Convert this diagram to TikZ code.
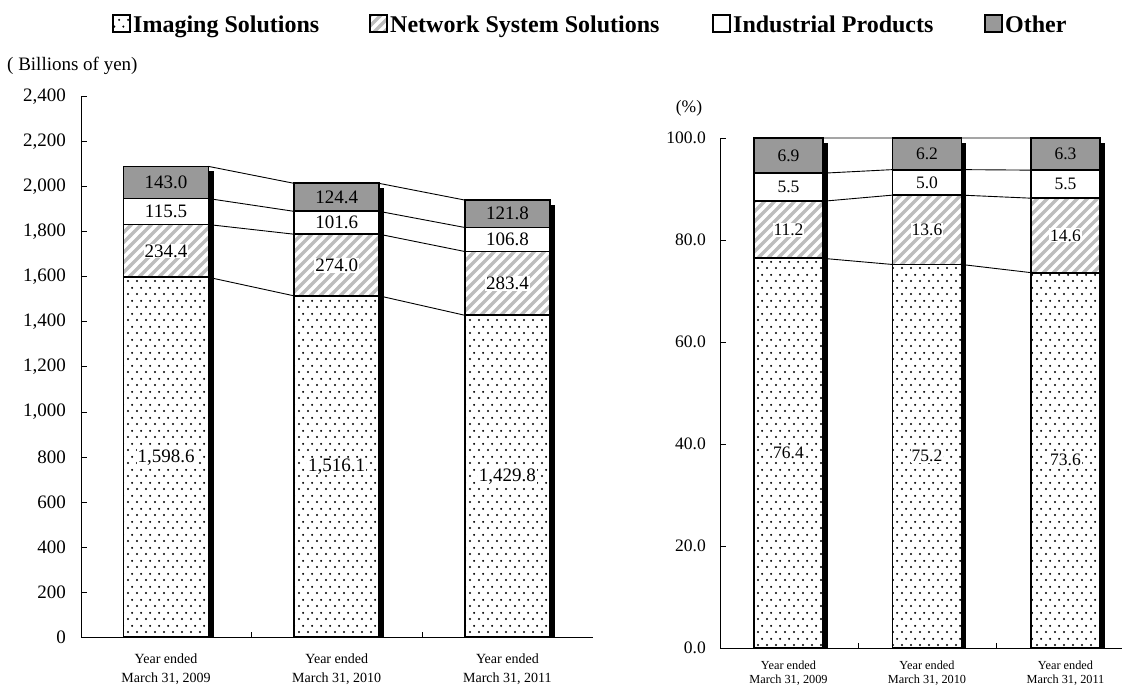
\documentclass[tikz,border=0pt]{standalone}
\usepackage{fontspec}
\setmainfont{Liberation Serif}
\usetikzlibrary{patterns}
\pgfkeys{/pgf/number format/assume math mode=true}
\pgfdeclarepatternformonly{mydots}{\pgfpointorigin}{\pgfpoint{9pt}{13pt}}{\pgfpoint{9pt}{13pt}}{%
  \pgfpathcircle{\pgfpoint{2.25pt}{3.25pt}}{1.2pt}%
  \pgfpathcircle{\pgfpoint{6.75pt}{9.75pt}}{1.2pt}%
  \pgfusepath{fill}}
\pgfdeclarepatternformonly{myhatch}{\pgfpoint{-1pt}{-1pt}}{\pgfpoint{11pt}{11pt}}{\pgfpoint{10pt}{10pt}}{%
  \pgfsetlinewidth{3.2pt}%
  \pgfpathmoveto{\pgfpoint{-1pt}{-1pt}}\pgfpathlineto{\pgfpoint{11pt}{11pt}}%
  \pgfpathmoveto{\pgfpoint{-1pt}{9pt}}\pgfpathlineto{\pgfpoint{1pt}{11pt}}%
  \pgfpathmoveto{\pgfpoint{9pt}{-1pt}}\pgfpathlineto{\pgfpoint{11pt}{1pt}}%
  \pgfusepath{stroke}}
\definecolor{othergray}{gray}{0.6}
\definecolor{hatchgray}{gray}{0.74}
\tikzset{
  dotfill/.style={pattern=mydots,pattern color=black},
  hatchfill/.style={pattern=myhatch,pattern color=hatchgray},
  barline/.style={draw=black,line width=1.8pt},
  conn/.style={draw=black,line width=0.9pt},
  axisline/.style={draw=black,line width=1pt},
  vallab/.style={font=\valfont,inner sep=1pt},
  legbox/.style={draw=black,line width=1.5pt},
  legtext/.style={font=\fontsize{24}{24}\selectfont\bfseries,anchor=base west,inner sep=0pt},
}
% chart parameters set per chart: \zy (zero y), \sc (px per unit), \hw (half width), \shw (shadow width)
\newcommand\drawstackbar[6]{%
  \pgfmathsetmacro\xl{#2-\hw}\pgfmathsetmacro\xr{#2+\hw}%
  \pgfmathsetmacro\yA{\zy-(#3)*\sc}%
  \pgfmathsetmacro\yB{\zy-(#3+#4)*\sc}%
  \pgfmathsetmacro\yC{\zy-(#3+#4+#5)*\sc}%
  \pgfmathsetmacro\yD{\zy-(#3+#4+#5+#6)*\sc}%
  \pgfmathsetmacro\ys{\yD+5}\pgfmathsetmacro\xs{\xr+\shw}%
  \coordinate (#1-l1) at (\xl,\yA); \coordinate (#1-r1) at (\xr,\yA);
  \coordinate (#1-l2) at (\xl,\yB); \coordinate (#1-r2) at (\xr,\yB);
  \coordinate (#1-l3) at (\xl,\yC); \coordinate (#1-r3) at (\xr,\yC);
  \coordinate (#1-l4) at (\xl,\yD); \coordinate (#1-r4) at (\xr,\yD);
  \path[dotfill] (\xl,\zy) rectangle (\xr,\yA);
  \path[hatchfill] (\xl,\yA) rectangle (\xr,\yB);
  \fill[white] (\xl,\yB) rectangle (\xr,\yC);
  \fill[othergray] (\xl,\yC) rectangle (\xr,\yD);
  \fill[black] (\xr,\ys) rectangle (\xs,\zy);
  \draw[barline] (\xl,\zy) rectangle (\xr,\yD);
  \draw[barline] (#1-l1) -- (#1-r1) (#1-l2) -- (#1-r2) (#1-l3) -- (#1-r3);
  \node[vallab,fill=white] (#1-v1) at (#2,{(\zy+\yA)/2}) {\pgfmathprintnumber[fixed,fixed zerofill,precision=1,1000 sep={,}]{#3}};
  \node[vallab,fill=white] (#1-v2) at (#2,{(\yA+\yB)/2}) {\pgfmathprintnumber[fixed,fixed zerofill,precision=1,1000 sep={,}]{#4}};
  \node[vallab] (#1-v3) at (#2,{(\yB+\yC)/2}) {\pgfmathprintnumber[fixed,fixed zerofill,precision=1,1000 sep={,}]{#5}};
  \node[vallab] (#1-v4) at (#2,{(\yC+\yD)/2}) {\pgfmathprintnumber[fixed,fixed zerofill,precision=1,1000 sep={,}]{#6}};
}
\begin{document}
\begin{tikzpicture}[x=1pt,y=-1pt]
\useasboundingbox (0,0) rectangle (1122,686);

% ---------- legend ----------
\draw[legbox,dotfill] (113,15) rectangle (130,32);
\node[legtext] (legA) at (133,32) {Imaging Solutions};
\draw[legbox,hatchfill] (370,15) rectangle (387,32);
\node[legtext] (legB) at (390,32) {Network System Solutions};
\draw[legbox,fill=white] (713,15) rectangle (730,32);
\node[legtext] (legC) at (733,32) {Industrial Products};
\draw[legbox,fill=othergray] (985,15) rectangle (1002,32);
\node[legtext] (legD) at (1005,32) {Other};

% ---------- left chart ----------
\def\zy{637}\def\sc{0.225}\def\hw{42.5}\def\shw{5}
\def\valfont{\fontsize{19}{19}\selectfont}
\node[anchor=west,inner sep=0pt,font=\fontsize{19}{19}\selectfont] (unitL) at (7,66) {( Billions of yen)};
\draw[axisline] (81,97) -- (81,637) -- (593,637);
\foreach \v in {0,200,...,2400}{
  \pgfmathsetmacro\ty{637-\v*0.225}
  \draw[axisline] (81,\ty) -- (87,\ty);
  \node[anchor=east,inner sep=0pt,font=\fontsize{19}{19}\selectfont] at (66,\ty) {\pgfmathprintnumber[1000 sep={,}]{\v}};
}
\foreach \tx in {251.7,422.4}{ \draw[axisline] (\tx,637) -- (\tx,632); }

\drawstackbar{LA}{166}{1598.6}{234.4}{115.5}{143.0}
\drawstackbar{LB}{336.7}{1516.1}{274.0}{101.6}{124.4}
\drawstackbar{LC}{507.4}{1429.8}{283.4}{106.8}{121.8}
\foreach \k in {1,2,3,4}{
  \draw[conn] (LA-r\k) -- (LB-l\k);
  \draw[conn] (LB-r\k) -- (LC-l\k);
}
\foreach \cx/\yr/\nm in {166/2009/catLA,336.7/2010/catLB,507.4/2011/catLC}{
  \node[align=center,inner sep=0pt,font=\fontsize{14}{19}\selectfont] (\nm) at (\cx,669.5) {Year ended\\March 31, \yr};
}

% ---------- right chart ----------
\def\zy{648}\def\sc{5.1}\def\hw{34.5}\def\shw{4.5}
\def\valfont{\fontsize{17.5}{17.5}\selectfont}
\node[inner sep=0pt,font=\fontsize{17.5}{17.5}\selectfont] (unitR) at (689,108) {(\%)};
\draw[axisline] (720,138) -- (720,648) -- (1122,648);
\foreach \v in {0,20,...,100}{
  \pgfmathsetmacro\ty{648-\v*5.1}
  \draw[axisline] (720,\ty) -- (726,\ty);
  \node[anchor=east,inner sep=0pt,font=\fontsize{17.5}{17.5}\selectfont] at (706,\ty) {\pgfmathprintnumber[fixed,fixed zerofill,precision=1]{\v}};
}
\foreach \tx in {858,996.5}{ \draw[axisline] (\tx,648) -- (\tx,643); }

\drawstackbar{RA}{788.5}{76.4}{11.2}{5.5}{6.9}
\drawstackbar{RB}{927}{75.2}{13.6}{5.0}{6.2}
\drawstackbar{RC}{1065.5}{73.6}{14.6}{5.5}{6.3}
\foreach \k in {1,2,3,4}{
  \draw[conn] (RA-r\k) -- (RB-l\k);
  \draw[conn] (RB-r\k) -- (RC-l\k);
}
\foreach \cx/\yr/\nm in {788.5/2009/catRA,927/2010/catRB,1065.5/2011/catRC}{
  \node[align=center,inner sep=0pt,font=\fontsize{12.3}{14}\selectfont] (\nm) at (\cx,673) {Year ended\\March 31, \yr};
}
\end{tikzpicture}
\end{document}
